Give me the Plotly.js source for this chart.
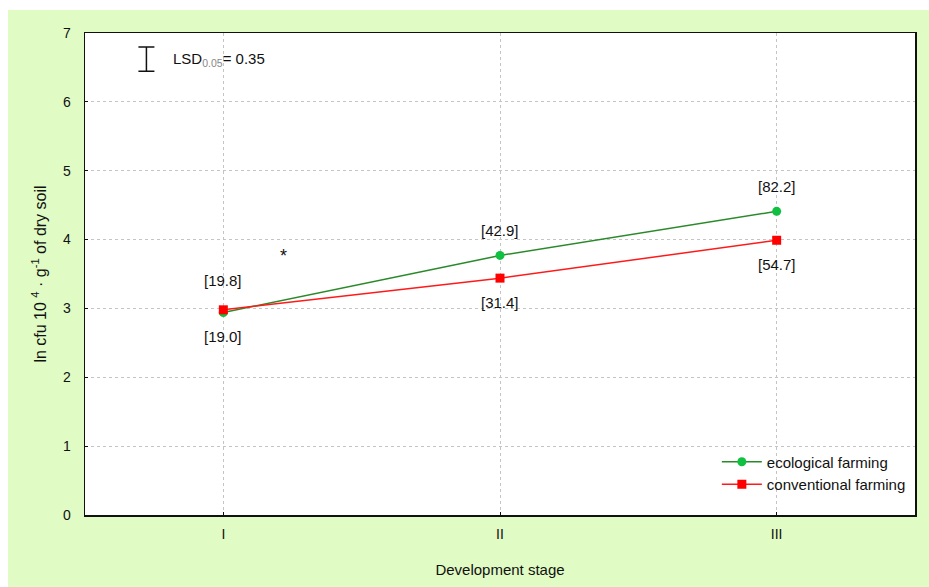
<!DOCTYPE html>
<html>
<head>
<meta charset="utf-8">
<script src="https://cdn.plot.ly/plotly-3.0.1.min.js"></script>
<style>
html,body{margin:0;padding:0;background:#ffffff;}
#chart{position:absolute;left:8px;top:10px;width:921px;height:577px;}
</style>
</head>
<body>
<div id="chart"></div>
<script>
var stages = ['I', 'II', 'III'];
var stagePos = [0, 1, 2];
var ecological = [2.94, 3.77, 4.41];
var conventional = [2.98, 3.44, 3.99];
var ecoLabels = ['[19.0]', '[42.9]', '[82.2]'];
var convLabels = ['[19.8]', '[31.4]', '[54.7]'];
var lsdValue = 0.35;

var traces = [
  {
    x: stagePos, y: ecological, name: 'ecological farming', type: 'scatter', mode: 'lines+markers',
    line: {color: '#2a8a2a', width: 1.5},
    marker: {color: '#10c040', size: 9, symbol: 'circle'}
  },
  {
    x: stagePos, y: conventional, name: 'conventional farming', type: 'scatter', mode: 'lines+markers',
    line: {color: '#ff1a1a', width: 1.5},
    marker: {color: '#ff0000', size: 9, symbol: 'square'}
  },
  {
    x: [-0.278], y: [6.62], type: 'scatter', mode: 'markers', showlegend: false, hoverinfo: 'skip',
    marker: {size: 1, color: 'rgba(0,0,0,0)'},
    error_y: {type: 'constant', value: lsdValue / 2, color: '#111111', thickness: 1.5, width: 8}
  }
];

var annotations = [];
var ecoDir = [1, -1, -1];
var convDir = [-1, 1, 1];
var lblFont = {family: 'Arial, Liberation Sans', size: 15, color: '#111111'};
for (var i = 0; i < stagePos.length; i++) {
  annotations.push({x: stagePos[i], y: ecological[i], xref: 'x', yref: 'y', text: ecoLabels[i], showarrow: false,
    yshift: ecoDir[i] < 0 ? 25 : -24, font: lblFont});
  annotations.push({x: stagePos[i], y: conventional[i], xref: 'x', yref: 'y', text: convLabels[i], showarrow: false,
    yshift: convDir[i] < 0 ? 29 : -24, font: lblFont});
}
annotations.push({x: 0.216, y: 3.76, xref: 'x', yref: 'y', text: '*', showarrow: false,
  font: {family: 'Arial, Liberation Sans', size: 18, color: '#111111'}});
annotations.push({x: -0.19, y: 6.62, xref: 'x', yref: 'y', xanchor: 'left', text: 'LSD<sub><span style="color:#888888">0.05</span></sub>= 0.35', showarrow: false,
  font: {family: 'Arial, Liberation Sans', size: 15, color: '#111111'}});

var layout = {
  width: 921, height: 577,
  paper_bgcolor: '#e0fbc4',
  plot_bgcolor: '#ffffff',
  margin: {l: 77, r: 14, t: 23, b: 72},
  font: {family: 'Arial, Liberation Sans', size: 14, color: '#111111'},
  showlegend: true,
  legend: {x: 0.995, y: 0.03, xanchor: 'right', yanchor: 'bottom', bgcolor: 'rgba(255,255,255,0)',
    font: {size: 15}, itemwidth: 40, tracegroupgap: 0},
  xaxis: {
    range: [-0.5, 2.5], tickvals: stagePos, ticktext: stages,
    showgrid: true, gridcolor: '#c4c4c4', griddash: 'dot', gridwidth: 1,
    showline: true, linecolor: '#111111', linewidth: 1.5, mirror: true,
    ticks: 'inside', ticklen: 3, tickcolor: '#111111', zeroline: false,
    ticklabelstandoff: 6,
    title: {text: 'Development stage', font: {size: 15}, standoff: 23}
  },
  yaxis: {
    range: [0, 7], dtick: 1,
    showgrid: true, gridcolor: '#c4c4c4', griddash: 'dot', gridwidth: 1,
    showline: true, linecolor: '#111111', linewidth: 1.5, mirror: true,
    ticks: 'inside', ticklen: 3, tickcolor: '#111111', zeroline: false,
    ticklabelstandoff: 10,
    title: {text: 'ln cfu 10 <sup>4</sup> · g<sup>-1</sup> of dry soil', font: {size: 16}, standoff: 12}
  },
  annotations: annotations
};

Plotly.newPlot('chart', traces, layout, {displayModeBar: false, staticPlot: true});
</script>
</body>
</html>
